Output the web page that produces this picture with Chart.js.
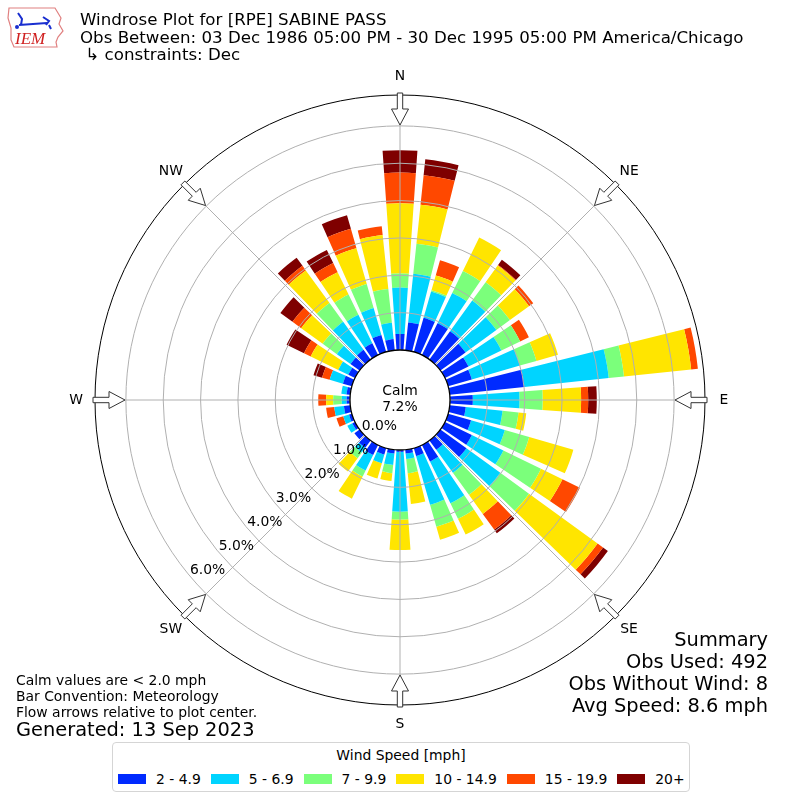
<!DOCTYPE html>
<html>
<head>
<meta charset="utf-8">
<title>Windrose Plot for [RPE] SABINE PASS</title>
<script src="https://cdn.jsdelivr.net/npm/chart.js@4.4.1/dist/chart.umd.min.js"></script>
<style>
  body { margin: 0; background: #fff; }
  #page { position: relative; width: 800px; height: 800px; font-family: "DejaVu Sans", sans-serif; color: #000; }
  #page canvas { position: absolute; left: 0; top: 0; }
  .txt { position: absolute; white-space: nowrap; }
  #logo { position: absolute; left: 5px; top: 4px; }
  #title { left: 80px; top: 11px; font-size: 16.67px; line-height: 17.7px; }
  #notes { left: 16px; top: 672px; font-size: 13.9px; line-height: 16px; }
  #generated { left: 16px; top: 719px; font-size: 19.4px; line-height: 22px; }
  #summary { right: 32px; top: 629px; font-size: 19.4px; line-height: 22px; text-align: right; }
  #legend { position: absolute; left: 112px; top: 742px; width: 576px; height: 48px;
            border: 1px solid #d5d5d5; border-radius: 4px; font-size: 13.9px; background: #fff; }
  #legend .ttl { text-align: center; margin-top: 3px; line-height: 18px; white-space: nowrap; }
  #legend .items { display: flex; padding-left: 5px; margin-top: 6px; line-height: 18px; white-space: nowrap; }
  #legend .item { display: flex; align-items: center; margin-right: 10px; flex-shrink: 0; }
  #legend .sw { width: 28px; height: 10px; margin-right: 10px; flex-shrink: 0; }
</style>
</head>
<body>
<div id="page">
  <canvas id="rose" width="800" height="800"></canvas>
  <svg id="logo" width="62" height="46" viewBox="0 0 62 46">
    <path d="M4 4 L50 4 L53 9 L56 14 L54 20 L58 27 L53 33 L51 38 L52 43 L9 43 L6 36 L6 24 L3 14 Z"
          fill="#fff" stroke="#e08080" stroke-width="1.2"/>
    <path d="M14 21 L42 19 M38 13 L44 17 L41 21 M44 21 L46 25 M13 9 L17 15 L16 21"
          fill="none" stroke="#1a2fd0" stroke-width="2"/>
    <circle cx="12" cy="23" r="2" fill="#1a2fd0"/>
    <text x="10" y="40" font-family="'Liberation Serif', serif" font-style="italic" font-size="17" fill="#d02020">IEM</text>
  </svg>
  <div id="title" class="txt">Windrose Plot for [RPE] SABINE PASS<br>Obs Between: 03 Dec 1986 05:00 PM - 30 Dec 1995 05:00 PM America/Chicago<br>&nbsp;&#8627; constraints: Dec</div>
  <div id="notes" class="txt">Calm values are &lt; 2.0 mph<br>Bar Convention: Meteorology<br>Flow arrows relative to plot center.</div>
  <div id="generated" class="txt">Generated: 13 Sep 2023</div>
  <div id="summary" class="txt">Summary<br>Obs Used: 492<br>Obs Without Wind: 8<br>Avg Speed: 8.6 mph</div>
  <div id="legend"><div class="ttl">Wind Speed [mph]</div><div class="items" id="legendItems"></div></div>
</div>
<script>
// wind direction of each bar (degrees, meteorological)
const directions = [0, 10, 20, 30, 40, 50, 60, 70, 80, 90, 100, 110,
                    120, 130, 140, 150, 160, 170, 180, 190, 200, 210, 220, 230,
                    240, 250, 260, 270, 280, 290, 300, 310, 320, 330, 340, 350];
const speedBins = ['2 - 4.9', '5 - 6.9', '7 - 9.9', '10 - 14.9', '15 - 19.9', '20+'];
const binColors = ['#002aff', '#00d4ff', '#7bff7b', '#ffe500', '#ff4800', '#7f0000'];

// frequency (%) of each speed bin per direction
const freq2to5 = [0.43, 0.75, 0.95, 0.95, 0.94, 0.83, 0.70, 0.66, 2.01, 0.61, 0.43, 0.64,
                  0.80, 0.86, 0.31, 0.49, 0.22, 0.10, 0.05, 0.10, 0.18, 0.30, 0.24, 0.17,
                  0.08, 0.08, 0.17, 0.09, 0.10, 0.25, 0.20, 0.30, 0.32, 0.35, 0.47, 0.30];
const freq5to7 = [1.24, 1.31, 0.73, 0.90, 1.01, 1.02, 0.98, 1.34, 2.27, 1.25, 0.99, 0.94,
                  0.94, 1.12, 0.76, 1.25, 1.36, 0.15, 1.60, 0.31, 0.24, 0.46, 0.16, 0,
                  0.15, 0.16, 0.26, 0.13, 0.14, 0.37, 0.30, 0.45, 0.93, 0.85, 0.75, 0.44];
const freq7to10 = [0.38, 0.81, 0.04, 0.65, 0.61, 0.45, 0.56, 0.46, 0.41, 0.62, 0.43, 0.68,
                   1.12, 0.95, 0.73, 0.46, 0.61, 0.38, 0.21, 0.22, 0, 0.18, 0.19, 0,
                   0, 0, 0, 0.23, 0, 0, 0, 0.47, 0.62, 0.60, 0.67, 0.91];
const freq10to15 = [1.88, 1.05, 0.41, 1.00, 0.55, 0.63, 0, 0.60, 1.81, 1.03, 0.21, 1.23,
                    0.64, 2.27, 0.63, 0.47, 0.36, 0.83, 0.82, 0.21, 0.43, 0.66, 0.44, 0,
                    0, 0, 0, 0.19, 0, 0, 0.82, 0.71, 1.08, 0.67, 1.00, 1.45];
const freq15to20 = [0.82, 0.79, 0.42, 0, 0.02, 0.14, 0.26, 0, 0.18, 0.19, 0, 0,
                    0.52, 0.18, 0.52, 0, 0, 0, 0, 0, 0, 0, 0, 0,
                    0, 0.19, 0.22, 0.21, 0, 0.21, 0.20, 0.29, 0.15, 0.27, 0.54, 0.24];
const freq20up = [0.60, 0.43, 0, 0, 0.17, 0, 0, 0, 0, 0.23, 0, 0,
                  0, 0.16, 0.12, 0, 0, 0, 0, 0, 0, 0, 0, 0,
                  0, 0, 0, 0, 0, 0.24, 0.52, 0.40, 0.27, 0.39, 0.38, 0];

const rTicks = [0, 1, 2, 3, 4, 5, 6];
const calmPct = 7.2;
const compass = ['N', 'NE', 'E', 'SE', 'S', 'SW', 'W', 'NW'];

const FONT = '13.9px "DejaVu Sans"';

// bars are stacked: each bin is drawn from the previous bin's top
const binFreqs = [freq2to5, freq5to7, freq7to10, freq10to15, freq15to20, freq20up];
const running = directions.map(() => 0);
const datasets = binFreqs.map((vals, i) => {
  const data = [];
  vals.forEach((v, d) => {
    running[d] += v;
    data.push(+running[d].toFixed(2), null); // bar, then the gap before the next one
  });
  return {
    label: speedBins[i],
    data: data,
    backgroundColor: binColors[i],
    borderWidth: 0,
    angle: c => (c.dataIndex % 2 ? 2 : 8)
  };
});
const labels = directions.flatMap(d => [d + '\u00b0', '']);

// turn the overlapping wedges into rings sitting on the bin below
const stackRings = {
  id: 'stackRings',
  afterDatasetsUpdate(chart) {
    const r0 = chart.scales.r.getDistanceFromCenterForValue(0);
    chart.data.datasets.forEach((ds, i) => {
      const below = i ? chart.getDatasetMeta(i - 1).data : null;
      chart.getDatasetMeta(i).data.forEach((arc, j) => {
        arc.innerRadius = below ? below[j].outerRadius : r0;
      });
    });
  }
};

const roseFrame = {
  id: 'roseFrame',
  afterDraw(chart) {
    const sc = chart.scales.r, ctx = chart.ctx;
    const cx = sc.xCenter, cy = sc.yCenter, rMax = sc.drawingArea;
    const r0 = sc.getDistanceFromCenterForValue(0);
    const pt = (deg, r, w) => {
      const a = deg * Math.PI / 180;
      w = w || 0;
      return [cx + r * Math.sin(a) + w * Math.cos(a), cy - r * Math.cos(a) + w * Math.sin(a)];
    };
    ctx.save();

    // direction grid lines
    ctx.strokeStyle = '#b0b0b0';
    ctx.lineWidth = 1;
    compass.forEach((_, k) => {
      const p1 = pt(k * 45, r0), p2 = pt(k * 45, rMax);
      ctx.beginPath(); ctx.moveTo(p1[0], p1[1]); ctx.lineTo(p2[0], p2[1]); ctx.stroke();
    });

    // outer frame
    ctx.strokeStyle = '#000';
    ctx.beginPath(); ctx.arc(cx, cy, rMax, 0, 2 * Math.PI); ctx.stroke();

    // calm circle
    ctx.fillStyle = '#fff';
    ctx.lineWidth = 1.3;
    ctx.beginPath(); ctx.arc(cx, cy, r0, 0, 2 * Math.PI); ctx.fill(); ctx.stroke();

    // flow arrows + compass labels
    const arrow = [[rMax + 2, -2.7], [rMax - 14, -2.7], [rMax - 14, -8.5], [rMax - 30, 0],
                   [rMax - 14, 8.5], [rMax - 14, 2.7], [rMax + 2, 2.7]];
    ctx.lineWidth = 1;
    ctx.strokeStyle = '#333';
    ctx.font = FONT;
    ctx.textAlign = 'center';
    ctx.textBaseline = 'middle';
    compass.forEach((name, k) => {
      ctx.beginPath();
      arrow.forEach((a, i) => {
        const p = pt(k * 45, a[0], a[1]);
        if (i) ctx.lineTo(p[0], p[1]); else ctx.moveTo(p[0], p[1]);
      });
      ctx.closePath();
      ctx.fillStyle = '#fff';
      ctx.fill(); ctx.stroke();
      const lp = pt(k * 45, rMax + 19);
      ctx.fillStyle = '#000';
      ctx.fillText(name, lp[0], lp[1]);
    });

    // calm value
    ctx.fillText('Calm', cx, cy - 9);
    ctx.fillText(calmPct.toFixed(1) + '%', cx, cy + 7);

    // radial tick labels along the SW side
    ctx.textAlign = 'left';
    ctx.textBaseline = 'alphabetic';
    rTicks.forEach(v => {
      const p = pt(230, sc.getDistanceFromCenterForValue(v));
      ctx.fillText(v.toFixed(1) + '%', p[0], p[1] - 2);
    });
    ctx.restore();
  }
};

new Chart(document.getElementById('rose'), {
  type: 'polarArea',
  data: { labels: labels, datasets: datasets },
  options: {
    responsive: false,
    devicePixelRatio: 1,
    animation: false,
    layout: { padding: 95 },
    plugins: { legend: { display: false }, tooltip: { enabled: false } },
    scales: {
      r: {
        min: -1.339,
        max: 6.827,
        startAngle: -4,
        ticks: { display: false },
        grid: { color: '#b0b0b0', lineWidth: 1, circular: true, z: 1 },
        angleLines: { display: false },
        pointLabels: { display: false },
        afterBuildTicks: s => { s.ticks = rTicks.map(v => ({ value: v })); }
      }
    }
  },
  plugins: [stackRings, roseFrame]
});

// legend built from the same bins and colours
const legendItems = document.getElementById('legendItems');
speedBins.forEach((name, i) => {
  const item = document.createElement('div');
  item.className = 'item';
  item.innerHTML = '<span class="sw" style="background:' + binColors[i] + '"></span><span>' + name + '</span>';
  legendItems.appendChild(item);
});
</script>
</body>
</html>
